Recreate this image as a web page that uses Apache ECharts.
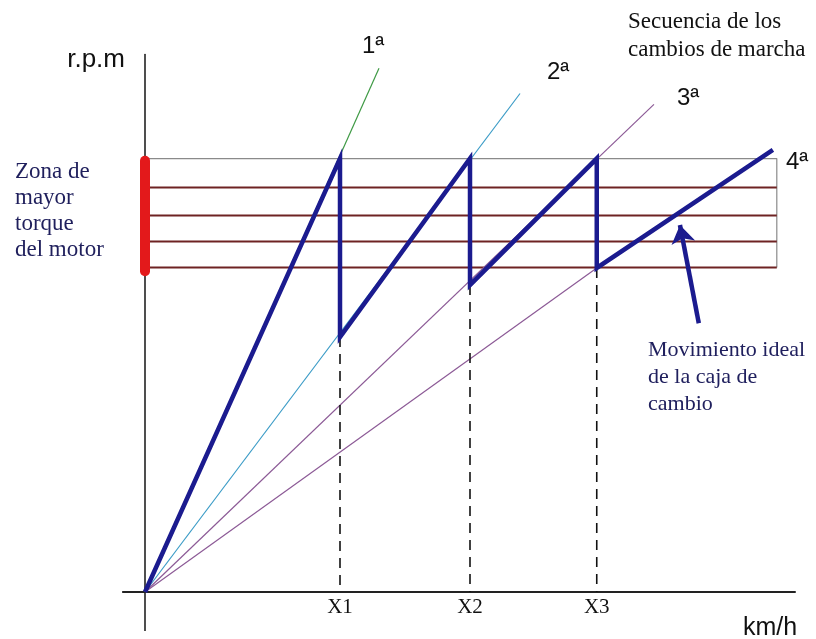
<!DOCTYPE html>
<html><head><meta charset="utf-8">
<script src="https://cdn.jsdelivr.net/npm/echarts@6/dist/echarts.min.js"></script>
<style>html,body{margin:0;padding:0;background:#fff}#c{width:816px;height:639px}</style>
</head><body><div id="c"></div>
<script>
// speeds (km/h, arbitrary units) at which gear changes happen
const shiftSpeeds = [30, 50, 69.5];
const shiftLabels = ['X1', 'X2', 'X3'];
// rpm after each shift (bottom of each vertical drop)
const shiftLowRpm = [3530, 4250, 4485];
const gearNames = ['1ª', '2ª', '3ª', '4ª'];
// thin gear lines (speed, rpm)
const gear1Line = [[0, 0], [36, 7250]];
const gear2Line = [[0, 0], [57.7, 6900]];
const gear3Line = [[0, 0], [78.3, 6750]];
const gear4Line = [[0, 0], [69.5, 4485]];
// ideal gearbox movement (thick saw-tooth)
const idealPath = [[0, 0], [30, 6000], [30, 3530], [50, 6000], [50, 4250], [69.5, 6000], [69.5, 4485], [96.6, 6120]];
// max-torque zone
const zoneTop = 6000;
const zoneLines = [5600, 5210, 4850, 4490];
const zoneEnd = 97.2;
const redZone = [4440, 5970];
// annotation arrow (from, to)
const arrowPts = [[85.2, 3720], [82.3, 5080]];
// y axis extension below the origin
const yAxisTail = [[0, 0], [0, -540]];

const chart = echarts.init(document.getElementById('c'), null, {renderer: 'canvas'});

const thin = (data, color) => ({
  type: 'line', data, symbol: 'none', silent: true, z: 2,
  lineStyle: {color, width: 1.2}
});

const series = [];
series.push({type: 'line', symbol: 'none', clip: false, z: 3, data: yAxisTail, lineStyle: {color: '#222', width: 1.6}});
// zone box
series.push({type: 'line', symbol: 'none', z: 1, data: [[0, zoneTop], [zoneEnd, zoneTop], [zoneEnd, zoneLines[zoneLines.length - 1]]], lineStyle: {color: '#8a8a8a', width: 1.2}});
zoneLines.forEach(v => series.push({type: 'line', symbol: 'none', z: 1, data: [[0, v], [zoneEnd, v]], lineStyle: {color: '#6e2323', width: 2}}));
// gear lines
series.push(thin(gear1Line, '#3f9a45'));
series.push(thin(gear2Line, '#3a9bc6'));
series.push(thin(gear3Line, '#8c5a96'));
series.push(thin(gear4Line, '#8c5a96'));
// dashed verticals
shiftSpeeds.forEach((s, i) => series.push({type: 'line', symbol: 'none', z: 2, data: [[s, shiftLowRpm[i]], [s, 0]], lineStyle: {color: '#111', width: 1.6, type: [10, 7]}}));
// ideal path
series.push({type: 'line', symbol: 'none', z: 4, data: idealPath, lineStyle: {color: '#1b1b8f', width: 4.5, join: 'miter'}});
// red zone bar
series.push({type: 'line', symbol: 'none', z: 5, data: [[0, redZone[0]], [0, redZone[1]]], lineStyle: {color: '#e3191b', width: 10, cap: 'round'}});
// arrow
series.push({type: 'lines', coordinateSystem: 'cartesian2d', z: 6, symbol: ['none', 'arrow'], symbolSize: [12, 18],
  data: [{coords: arrowPts}], lineStyle: {color: '#1b1b8f', width: 4.5, opacity: 1, curveness: 0}});

const serif = '"Liberation Serif", "Times New Roman", serif';
const sans = '"Liberation Sans", Arial, sans-serif';
const txt = (text, x, y, font, fill, align, vAlign, lh) => ({
  type: 'text', x, y, silent: true, z: 10,
  style: {text, font, fill, align: align || 'left', verticalAlign: vAlign || 'middle', lineHeight: lh}
});

chart.setOption({
  animation: false,
  backgroundColor: '#fff',
  grid: {left: 122.9, right: 21, top: 54.5, bottom: 47, containLabel: false, outerBoundsMode: 'none'},
  xAxis: {
    type: 'value', min: -3.4, max: 100,
    axisLine: {onZero: false, lineStyle: {color: '#222', width: 2}},
    axisTick: {show: false}, splitLine: {show: false},
    axisLabel: {customValues: shiftSpeeds, formatter: v => shiftLabels[shiftSpeeds.indexOf(v)],
      fontFamily: serif, fontSize: 21, color: '#111', margin: 5}
  },
  yAxis: {
    type: 'value', min: 0, max: 7440,
    axisLine: {onZero: true, lineStyle: {color: '#222', width: 1.6}},
    axisTick: {show: false}, splitLine: {show: false}, axisLabel: {show: false}
  },
  series,
  graphic: [
    txt('r.p.m', 125, 60, '26px ' + sans, '#111', 'right'),
    txt('Zona de\nmayor\ntorque\ndel motor', 15, 159, '23px ' + serif, '#1f1f5c', 'left', 'top', 26),
    txt('Secuencia de los\ncambios de marcha', 628, 8, '23px ' + serif, '#111', 'left', 'top', 28),
    txt('Movimiento ideal\nde la caja de\ncambio', 648, 337, '22px ' + serif, '#20205e', 'left', 'top', 27),
    txt(gearNames[0], 373, 46, '24px ' + sans, '#111', 'center'),
    txt(gearNames[1], 558, 72, '24px ' + sans, '#111', 'center'),
    txt(gearNames[2], 688, 98, '24px ' + sans, '#111', 'center'),
    txt(gearNames[3], 797, 162, '24px ' + sans, '#111', 'center'),
    txt('km/h', 770, 628, '25px ' + sans, '#111', 'center')
  ]
});
</script></body></html>
